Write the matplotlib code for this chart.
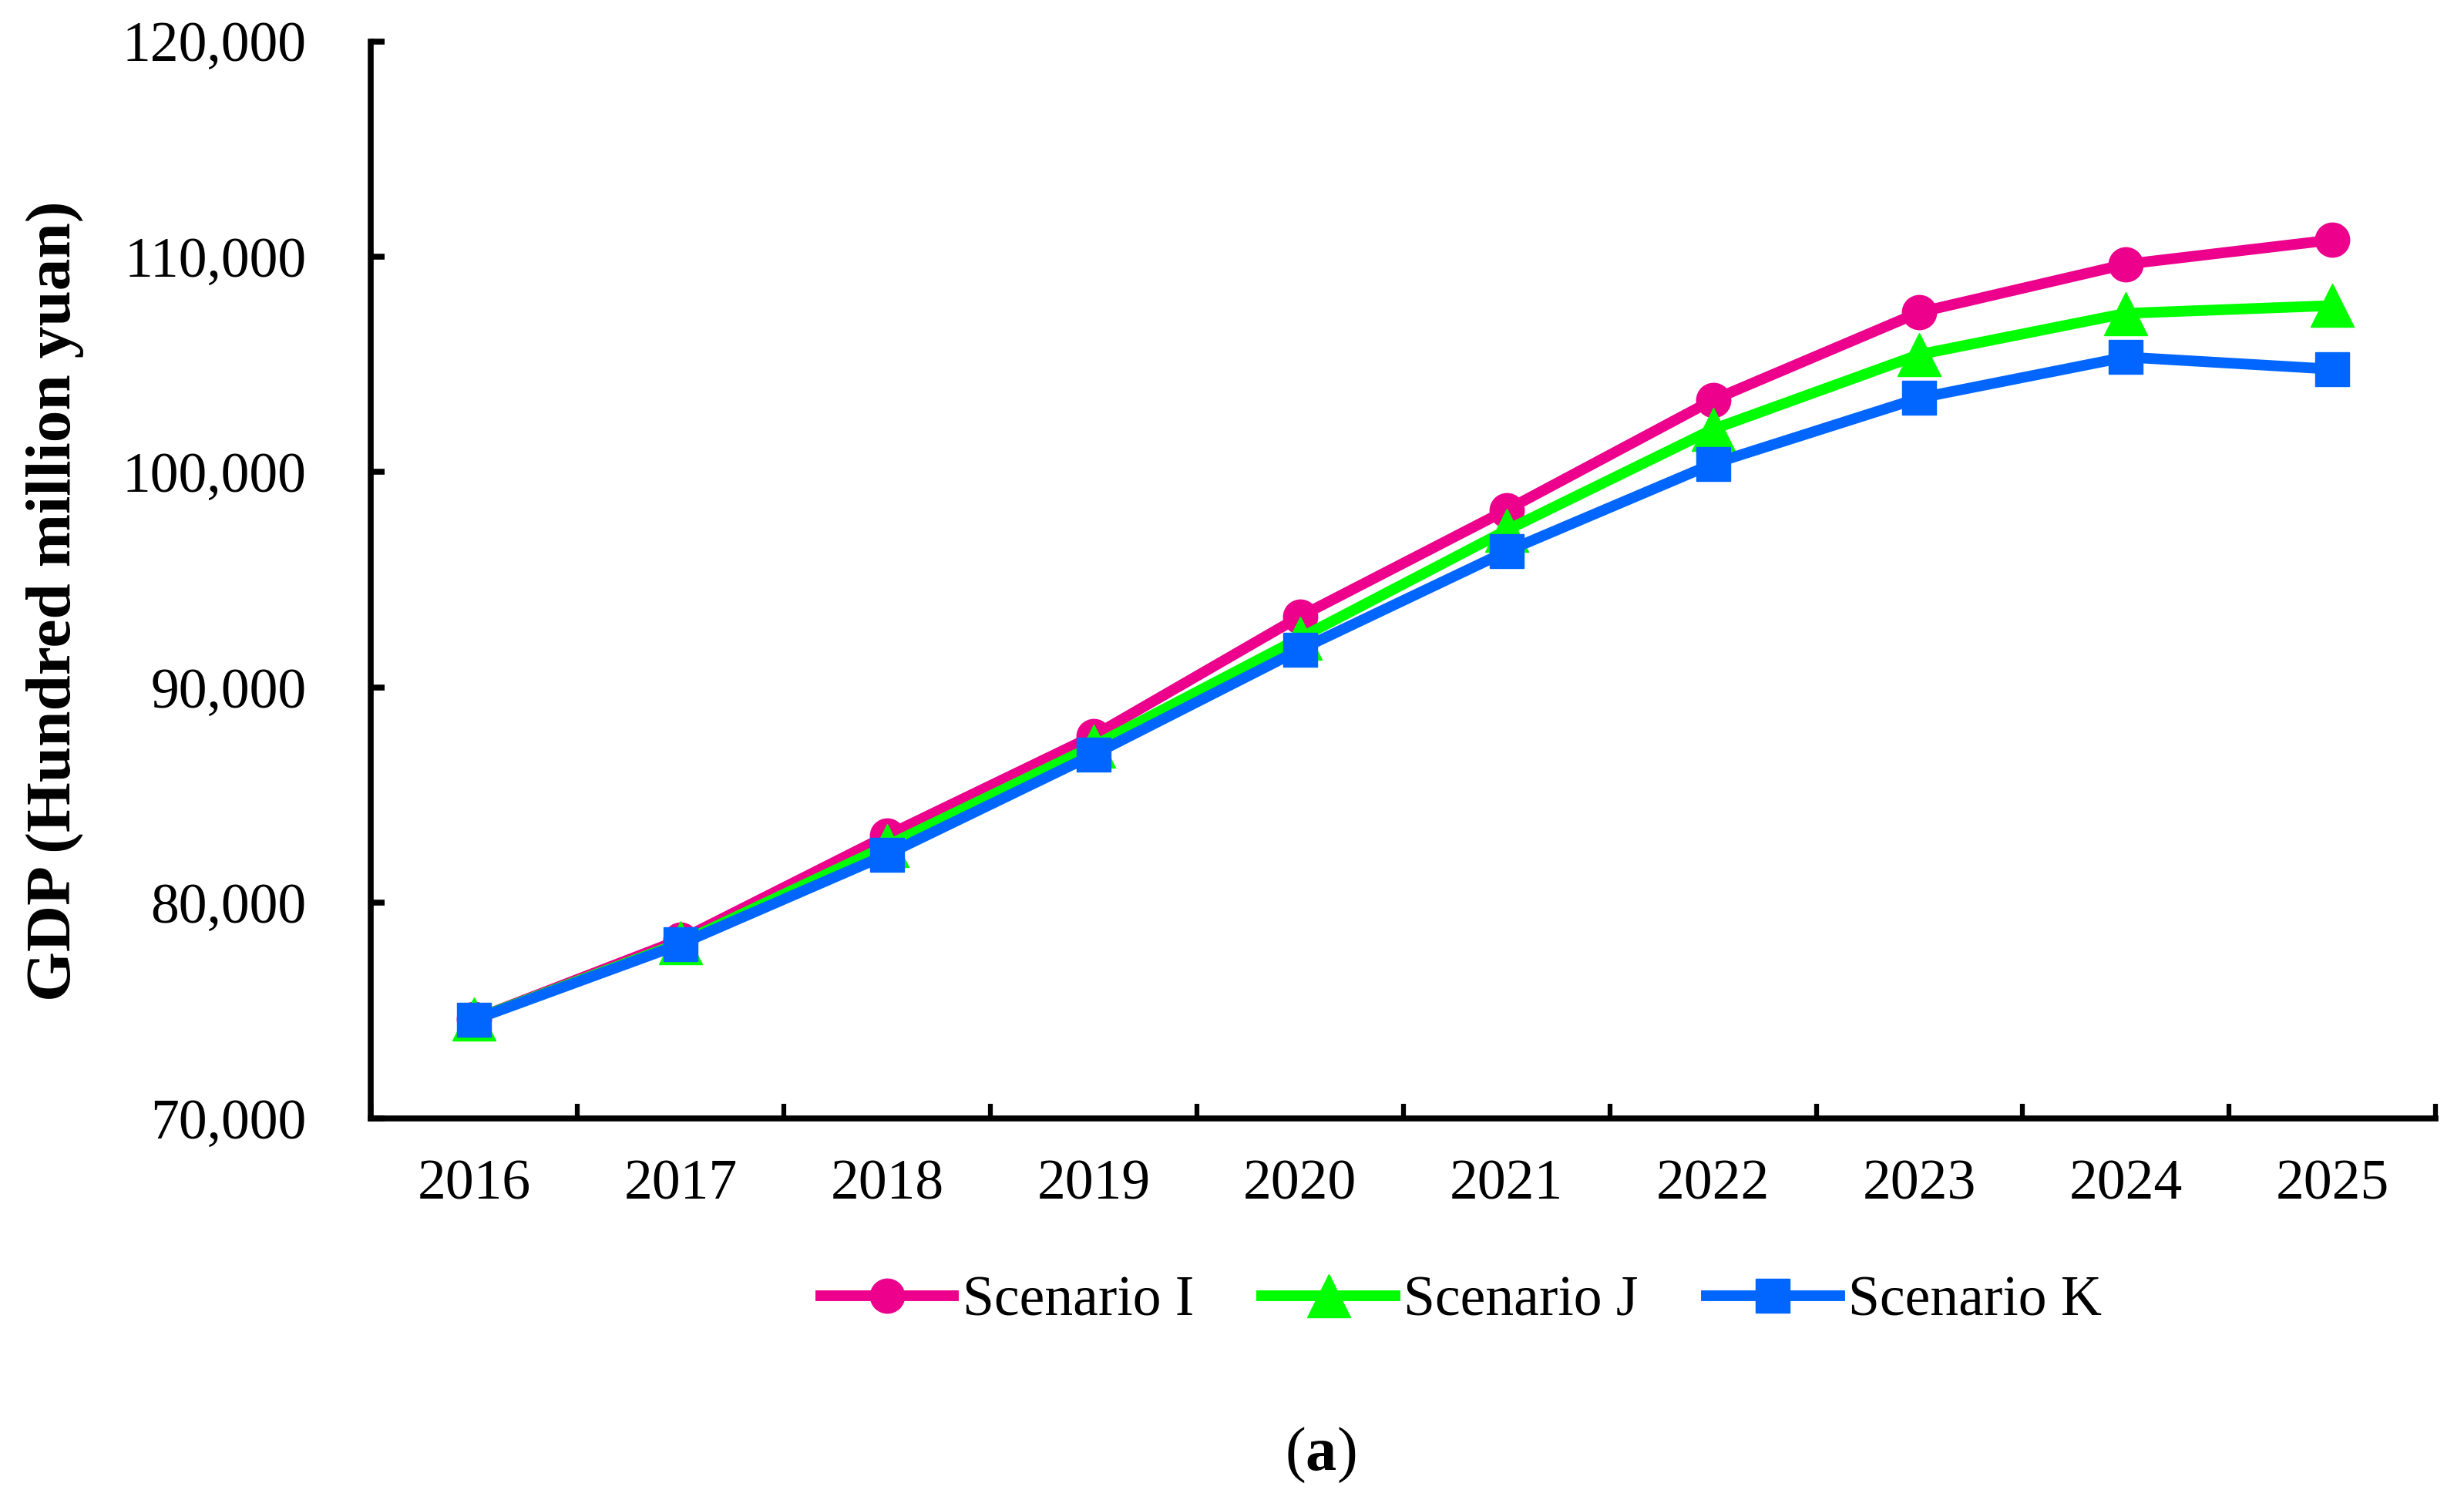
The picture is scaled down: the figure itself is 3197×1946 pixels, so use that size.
"""
GDP scenario projections, 2016-2025 (panel a).
"""
import matplotlib
matplotlib.use("Agg")
import matplotlib.pyplot as plt
from matplotlib.ticker import FuncFormatter, FixedLocator

# ---------------------------------------------------------------------------
# Data
# ---------------------------------------------------------------------------
years = ["2016", "2017", "2018", "2019", "2020", "2021", "2022", "2023", "2024", "2025"]

scenario_i = [74600, 78300, 83130, 87760, 93300, 98240, 103350, 107420, 109650, 110780]
scenario_j = [74600, 78150, 82660, 87290, 92300, 97300, 101990, 105460, 107370, 107730]
scenario_k = [74580, 78090, 82250, 86890, 91760, 96320, 100390, 103440, 105340, 104780]

series_names = ["Scenario I", "Scenario J", "Scenario K"]
series_colors = ["#EC008C", "#00FF00", "#0066FF"]
series_markers = ["o", "^", "s"]
marker_sizes = [32, 40, 31]

y_ticks = [70000, 80000, 90000, 100000, 110000, 120000]

FONT = "Liberation Serif"
FS = 53

plt.rcParams["font.family"] = [FONT, "DejaVu Serif"]
plt.rcParams["mathtext.fontset"] = "custom"
plt.rcParams["mathtext.rm"] = FONT
plt.rcParams["mathtext.bf"] = FONT + ":bold"


def make_figure(output_path="out.png"):
    fig = plt.figure(figsize=(31.97, 19.46), dpi=100)
    ax = fig.add_axes([0.1505, 0.2544, 0.838, 0.7181])

    x = list(range(len(years)))
    for vals, name, col, mk, ms in zip(
        [scenario_i, scenario_j, scenario_k], series_names, series_colors, series_markers, marker_sizes
    ):
        ax.plot(x, vals, color=col, lw=10, marker=mk, ms=ms, mec=col, mfc=col,
                label=name, clip_on=False, solid_joinstyle="round")

    # category axis: ticks between categories, labels at category centres
    ax.set_xlim(-0.5, len(years) - 0.5)
    ax.xaxis.set_major_locator(FixedLocator([i - 0.5 for i in range(len(years) + 1)]))
    ax.xaxis.set_minor_locator(FixedLocator(x))
    ax.set_xticklabels([], minor=False)
    ax.set_xticklabels(years, minor=True)
    ax.tick_params(axis="x", which="major", direction="in", length=14, width=4.5)
    ax.tick_params(axis="x", which="minor", length=0, pad=38, labelsize=FS)

    ax.set_ylim(70000, 120000)
    ax.set_yticks(y_ticks)
    ax.yaxis.set_major_formatter(FuncFormatter(lambda v, p: f"{int(v):,}"))
    ax.tick_params(axis="y", direction="in", length=13, width=5.5, pad=60, labelsize=FS)

    for side in ["top", "right"]:
        ax.spines[side].set_visible(False)
    for side in ["left", "bottom"]:
        ax.spines[side].set_linewidth(5.5)

    ax.set_ylabel("GDP (Hundred million yuan)", fontsize=60, fontweight="bold")
    ax.yaxis.set_label_coords(-0.139, 0.48)

    ax.legend(loc="center", bbox_to_anchor=(0.593, 0.132), bbox_transform=fig.transFigure,
              ncol=3, frameon=False, fontsize=FS, handlelength=2.35, handletextpad=0.15,
              columnspacing=1.2, borderpad=0)

    fig.text(0.536, 0.03, r"($\mathbf{a}$)", fontsize=58, ha="center", va="center")

    fig.savefig(output_path, dpi=100)
    return fig


if __name__ == "__main__":
    make_figure("out.png")
